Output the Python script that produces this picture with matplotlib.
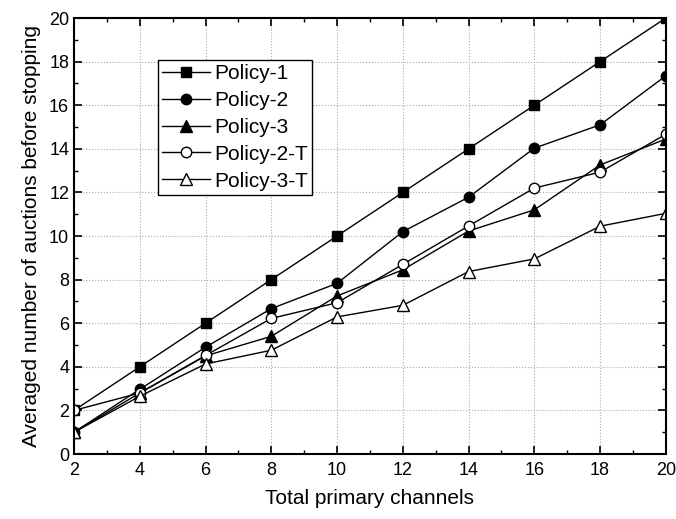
import matplotlib.pyplot as plt
import numpy as np

plt.rcParams['font.family'] = ['Liberation Sans', 'DejaVu Sans']

channels = [2, 4, 6, 8, 10, 12, 14, 16, 18, 20]
policy1 = [2, 4, 6, 8, 10, 12, 14, 16, 18, 20]
policy2 = [1.0, 2.97, 4.9, 6.67, 7.83, 10.2, 11.78, 14.03, 15.1, 17.35]
policy3 = [1.0, 2.8, 4.5, 5.4, 7.25, 8.45, 10.23, 11.2, 13.26, 14.45]
policy2t = [2.0, 2.8, 4.52, 6.22, 6.94, 8.7, 10.46, 12.2, 12.93, 14.67]
policy3t = [1.0, 2.65, 4.13, 4.76, 6.29, 6.82, 8.37, 8.95, 10.45, 11.04]

fig = plt.figure(figsize=(6.76, 5.19), dpi=100)
ax = fig.add_axes([0.1095, 0.1252, 0.8755, 0.8401])

ms = 7.5
ax.plot(channels, policy1, '-', color='black', lw=1, marker='s', ms=ms, mfc='black', mec='black', label='Policy-1')
ax.plot(channels, policy2, '-', color='black', lw=1, marker='o', ms=ms, mfc='black', mec='black', label='Policy-2')
ax.plot(channels, policy3, '-', color='black', lw=1, marker='^', ms=ms+1, mfc='black', mec='black', label='Policy-3')
ax.plot(channels, policy2t, '-', color='black', lw=1, marker='o', ms=ms, mfc='white', mec='black', mew=1, label='Policy-2-T')
ax.plot(channels, policy3t, '-', color='black', lw=1, marker='^', ms=ms+1, mfc='white', mec='black', mew=1, label='Policy-3-T')

ax.set_xlim(2, 20)
ax.set_ylim(0, 20)
ax.set_xticks(np.arange(2, 21, 2))
ax.set_yticks(np.arange(0, 21, 2))
ax.set_xticks(np.arange(3, 20, 2), minor=True)
ax.set_yticks(np.arange(1, 20, 2), minor=True)
ax.tick_params(which='both', direction='in', top=True, right=True, labelsize=13)
ax.tick_params(which='major', length=6, width=1.2)
ax.tick_params(which='minor', length=3, width=1)
ax.tick_params(axis='x', pad=6)
for s in ax.spines.values():
    s.set_linewidth(1.5)
ax.grid(True, which='major', linestyle=':', color='#aaaaaa', lw=0.8)
ax.set_axisbelow(True)

ax.set_xlabel('Total primary channels', fontsize=15, labelpad=7)
ax.set_ylabel('Averaged number of auctions before stopping', fontsize=15, labelpad=6)

leg = ax.legend(loc='upper left', bbox_to_anchor=(0.142, 0.904), borderaxespad=0,
                fontsize=15, fancybox=False, framealpha=1, edgecolor='black',
                handlelength=2.3, handletextpad=0.2, labelspacing=0.38, borderpad=0.2)
leg.get_frame().set_linewidth(1)

fig.savefig('out.png', dpi=100)
